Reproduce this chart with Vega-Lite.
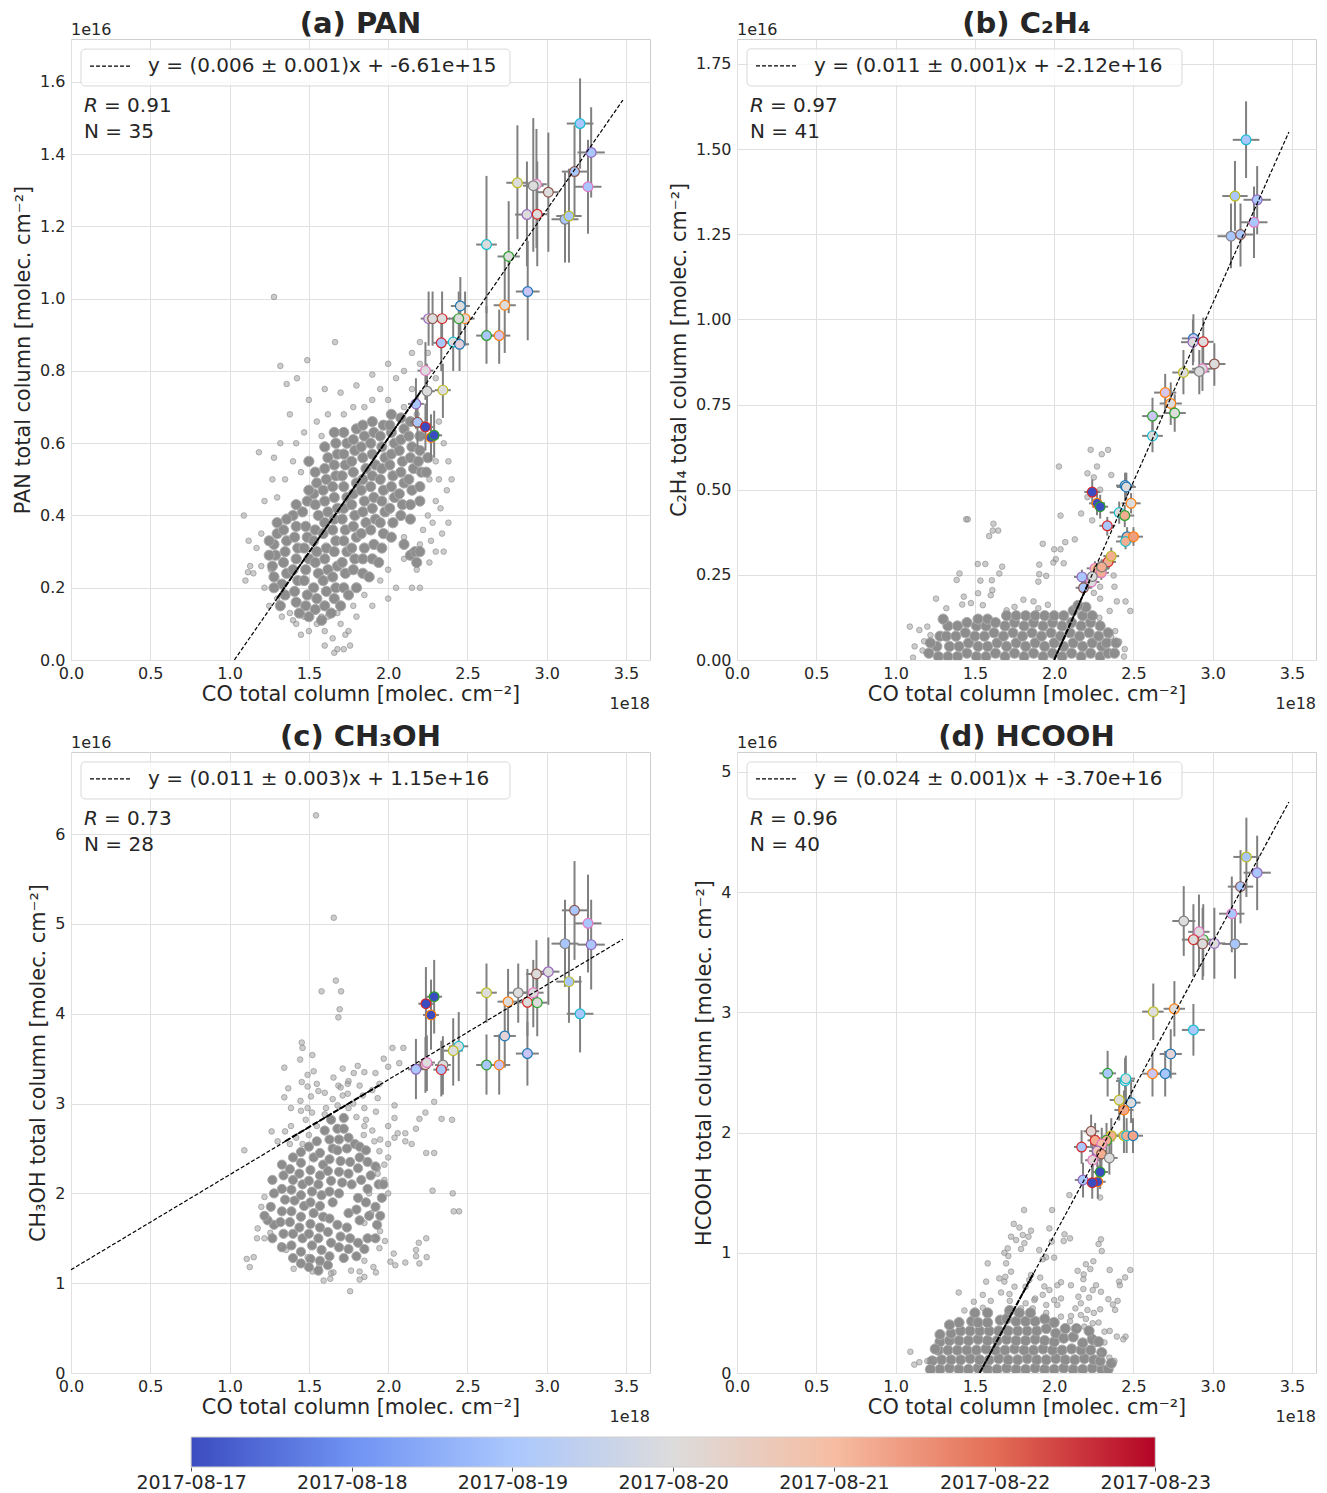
{"$schema":"https://vega.github.io/schema/vega-lite/v6.json","padding":{"left":12,"top":9,"right":0,"bottom":0},"background":"white","bounds":"flush","spacing":713,
"config":{"font":"DejaVu Sans","view":{"stroke":"#cfcfcf","strokeWidth":1},"axis":{"grid":true,"gridColor":"#e0e0e0","gridWidth":1,"domain":false,"ticks":false,"labelFontSize":16,"labelColor":"#262626","titleFontSize":20.8,"titleColor":"#262626","titleFontWeight":"normal","labelOverlap":false,"labelFlush":false},"axisX":{"labelPadding":5,"titlePadding":3},"axisY":{"labelPadding":6,"titlePadding":6},"title":{"fontSize":29,"fontWeight":"bold","color":"#262626","offset":-17,"anchor":"middle"},"text":{"color":"#262626"}},
"datasets":{
"pa":[{"x":3.21,"y":1.485,"xl":3.126,"xh":3.294,"yl":1.36,"yh":1.61,"d":19,"e":"c"},{"x":3.28,"y":1.405,"xl":3.194,"xh":3.366,"yl":1.28,"yh":1.53,"d":19,"e":"p"},{"x":3.175,"y":1.352,"xl":3.095,"xh":3.255,"yl":1.23,"yh":1.48,"d":19,"e":"n"},{"x":3.26,"y":1.31,"xl":3.175,"xh":3.345,"yl":1.18,"yh":1.44,"d":19,"e":"k"},{"x":3.115,"y":1.22,"xl":3.03,"xh":3.2,"yl":1.1,"yh":1.35,"d":19,"e":"i"},{"x":3.14,"y":1.229,"xl":3.06,"xh":3.22,"yl":1.1,"yh":1.36,"d":19,"e":"y"},{"x":2.815,"y":1.321,"xl":2.745,"xh":2.885,"yl":1.165,"yh":1.48,"d":20,"e":"y"},{"x":2.935,"y":1.317,"xl":2.87,"xh":3.0,"yl":1.14,"yh":1.47,"d":20,"e":"k"},{"x":2.915,"y":1.313,"xl":2.85,"xh":2.98,"yl":1.13,"yh":1.5,"d":20,"e":"i"},{"x":3.01,"y":1.295,"xl":2.94,"xh":3.08,"yl":1.13,"yh":1.46,"d":20,"e":"n"},{"x":2.875,"y":1.233,"xl":2.8,"xh":2.95,"yl":1.09,"yh":1.38,"d":20,"e":"p"},{"x":2.94,"y":1.234,"xl":2.875,"xh":3.005,"yl":1.09,"yh":1.38,"d":20,"e":"r"},{"x":2.62,"y":1.15,"xl":2.555,"xh":2.685,"yl":0.96,"yh":1.34,"d":20,"e":"c"},{"x":2.76,"y":1.117,"xl":2.69,"xh":2.83,"yl":0.96,"yh":1.27,"d":20,"e":"g"},{"x":2.88,"y":1.02,"xl":2.805,"xh":2.955,"yl":0.885,"yh":1.16,"d":19.2,"e":"b"},{"x":2.735,"y":0.982,"xl":2.665,"xh":2.805,"yl":0.85,"yh":1.12,"d":20,"e":"o"},{"x":2.62,"y":0.898,"xl":2.555,"xh":2.685,"yl":0.82,"yh":0.98,"d":19,"e":"g"},{"x":2.7,"y":0.898,"xl":2.63,"xh":2.77,"yl":0.82,"yh":0.97,"d":19.3,"e":"o"},{"x":2.455,"y":0.98,"xl":2.395,"xh":2.515,"yl":0.9,"yh":1.06,"d":20,"e":"b"},{"x":2.485,"y":0.945,"xl":2.425,"xh":2.545,"yl":0.87,"yh":1.02,"d":20.2,"e":"o"},{"x":2.445,"y":0.945,"xl":2.385,"xh":2.505,"yl":0.87,"yh":1.02,"d":20,"e":"g"},{"x":2.34,"y":0.945,"xl":2.29,"xh":2.39,"yl":0.87,"yh":1.02,"d":20,"e":"r"},{"x":2.255,"y":0.945,"xl":2.205,"xh":2.305,"yl":0.87,"yh":1.02,"d":20,"e":"p"},{"x":2.28,"y":0.945,"xl":2.23,"xh":2.33,"yl":0.87,"yh":1.02,"d":20,"e":"n"},{"x":2.335,"y":0.878,"xl":2.285,"xh":2.385,"yl":0.8,"yh":0.95,"d":19,"e":"r"},{"x":2.41,"y":0.88,"xl":2.35,"xh":2.47,"yl":0.8,"yh":0.95,"d":20,"e":"c"},{"x":2.45,"y":0.874,"xl":2.39,"xh":2.51,"yl":0.8,"yh":0.95,"d":19.7,"e":"b"},{"x":2.235,"y":0.801,"xl":2.185,"xh":2.285,"yl":0.72,"yh":0.88,"d":20,"e":"k"},{"x":2.245,"y":0.744,"xl":2.195,"xh":2.295,"yl":0.66,"yh":0.82,"d":20,"e":"i"},{"x":2.345,"y":0.747,"xl":2.295,"xh":2.395,"yl":0.67,"yh":0.82,"d":20,"e":"y"},{"x":2.175,"y":0.709,"xl":2.125,"xh":2.225,"yl":0.64,"yh":0.78,"d":19,"e":"p"},{"x":2.185,"y":0.658,"xl":2.135,"xh":2.235,"yl":0.59,"yh":0.73,"d":19,"e":"n"},{"x":2.27,"y":0.616,"xl":2.22,"xh":2.32,"yl":0.55,"yh":0.68,"d":17,"e":"o"},{"x":2.235,"y":0.645,"xl":2.185,"xh":2.285,"yl":0.58,"yh":0.71,"d":17,"e":"r"},{"x":2.29,"y":0.622,"xl":2.24,"xh":2.34,"yl":0.56,"yh":0.69,"d":17,"e":"g"}],
"pb":[{"x":3.21,"y":1.527,"xl":3.126,"xh":3.294,"yl":1.415,"yh":1.64,"d":19,"e":"c"},{"x":3.14,"y":1.362,"xl":3.06,"xh":3.22,"yl":1.26,"yh":1.465,"d":19,"e":"y"},{"x":3.28,"y":1.351,"xl":3.194,"xh":3.366,"yl":1.25,"yh":1.45,"d":19,"e":"p"},{"x":3.26,"y":1.285,"xl":3.175,"xh":3.345,"yl":1.18,"yh":1.39,"d":19,"e":"k"},{"x":3.115,"y":1.244,"xl":3.03,"xh":3.2,"yl":1.15,"yh":1.34,"d":19,"e":"i"},{"x":3.175,"y":1.249,"xl":3.095,"xh":3.255,"yl":1.155,"yh":1.34,"d":19,"e":"n"},{"x":2.878,"y":0.944,"xl":2.805,"xh":2.95,"yl":0.875,"yh":1.015,"d":19.3,"e":"b"},{"x":2.94,"y":0.934,"xl":2.875,"xh":3.005,"yl":0.865,"yh":1.005,"d":20,"e":"r"},{"x":2.875,"y":0.933,"xl":2.8,"xh":2.95,"yl":0.865,"yh":1.0,"d":20,"e":"p"},{"x":3.01,"y":0.869,"xl":2.94,"xh":3.08,"yl":0.805,"yh":0.93,"d":20,"e":"n"},{"x":2.935,"y":0.855,"xl":2.87,"xh":3.0,"yl":0.79,"yh":0.92,"d":20,"e":"k"},{"x":2.915,"y":0.847,"xl":2.85,"xh":2.98,"yl":0.78,"yh":0.91,"d":20,"e":"i"},{"x":2.815,"y":0.844,"xl":2.745,"xh":2.885,"yl":0.78,"yh":0.91,"d":20,"e":"y"},{"x":2.7,"y":0.785,"xl":2.63,"xh":2.77,"yl":0.725,"yh":0.84,"d":19.3,"e":"o"},{"x":2.735,"y":0.753,"xl":2.665,"xh":2.805,"yl":0.69,"yh":0.815,"d":20,"e":"o"},{"x":2.76,"y":0.725,"xl":2.69,"xh":2.83,"yl":0.67,"yh":0.78,"d":20,"e":"g"},{"x":2.62,"y":0.716,"xl":2.555,"xh":2.685,"yl":0.66,"yh":0.77,"d":19.2,"e":"g"},{"x":2.62,"y":0.658,"xl":2.555,"xh":2.685,"yl":0.61,"yh":0.71,"d":20,"e":"c"},{"x":2.447,"y":0.512,"xl":2.39,"xh":2.505,"yl":0.47,"yh":0.55,"d":19.7,"e":"b"},{"x":2.455,"y":0.508,"xl":2.395,"xh":2.515,"yl":0.47,"yh":0.55,"d":20,"e":"b"},{"x":2.485,"y":0.46,"xl":2.425,"xh":2.545,"yl":0.43,"yh":0.49,"d":20,"e":"o"},{"x":2.41,"y":0.433,"xl":2.35,"xh":2.47,"yl":0.4,"yh":0.465,"d":20,"e":"c"},{"x":2.445,"y":0.424,"xl":2.385,"xh":2.505,"yl":0.39,"yh":0.455,"d":21.2,"e":"g"},{"x":2.335,"y":0.394,"xl":2.285,"xh":2.385,"yl":0.365,"yh":0.42,"d":19,"e":"r"},{"x":2.46,"y":0.362,"xl":2.4,"xh":2.52,"yl":0.335,"yh":0.39,"d":21.2,"e":"b"},{"x":2.45,"y":0.348,"xl":2.39,"xh":2.51,"yl":0.325,"yh":0.375,"d":21.2,"e":"c"},{"x":2.5,"y":0.362,"xl":2.44,"xh":2.56,"yl":0.335,"yh":0.39,"d":21.4,"e":"o"},{"x":2.34,"y":0.288,"xl":2.29,"xh":2.39,"yl":0.265,"yh":0.31,"d":21.2,"e":"r"},{"x":2.36,"y":0.305,"xl":2.31,"xh":2.41,"yl":0.28,"yh":0.33,"d":21.2,"e":"y"},{"x":2.257,"y":0.269,"xl":2.205,"xh":2.31,"yl":0.245,"yh":0.29,"d":21,"e":"k"},{"x":2.28,"y":0.265,"xl":2.23,"xh":2.33,"yl":0.245,"yh":0.29,"d":21.2,"e":"n"},{"x":2.3,"y":0.27,"xl":2.25,"xh":2.35,"yl":0.25,"yh":0.295,"d":21.2,"e":"g"},{"x":2.297,"y":0.256,"xl":2.245,"xh":2.345,"yl":0.235,"yh":0.28,"d":21.2,"e":"k"},{"x":2.3,"y":0.273,"xl":2.25,"xh":2.35,"yl":0.25,"yh":0.295,"d":21.2,"e":"i"},{"x":2.235,"y":0.229,"xl":2.185,"xh":2.285,"yl":0.21,"yh":0.25,"d":20,"e":"k"},{"x":2.24,"y":0.245,"xl":2.19,"xh":2.29,"yl":0.225,"yh":0.265,"d":20,"e":"i"},{"x":2.175,"y":0.244,"xl":2.125,"xh":2.225,"yl":0.22,"yh":0.265,"d":19,"e":"p"},{"x":2.185,"y":0.212,"xl":2.135,"xh":2.235,"yl":0.19,"yh":0.235,"d":19,"e":"n"},{"x":2.27,"y":0.46,"xl":2.22,"xh":2.32,"yl":0.425,"yh":0.495,"d":17,"e":"o"},{"x":2.24,"y":0.493,"xl":2.19,"xh":2.29,"yl":0.455,"yh":0.53,"d":17,"e":"r"},{"x":2.29,"y":0.45,"xl":2.24,"xh":2.34,"yl":0.415,"yh":0.485,"d":17,"e":"g"}],
"pc":[{"x":3.175,"y":5.152,"xl":3.095,"xh":3.255,"yl":4.6,"yh":5.7,"d":19,"e":"n"},{"x":3.26,"y":5.007,"xl":3.175,"xh":3.345,"yl":4.46,"yh":5.55,"d":19,"e":"k"},{"x":3.115,"y":4.781,"xl":3.03,"xh":3.2,"yl":4.3,"yh":5.27,"d":19,"e":"i"},{"x":3.28,"y":4.77,"xl":3.194,"xh":3.366,"yl":4.27,"yh":5.27,"d":19,"e":"p"},{"x":3.14,"y":4.358,"xl":3.06,"xh":3.22,"yl":3.9,"yh":4.82,"d":19,"e":"y"},{"x":3.21,"y":4.0,"xl":3.126,"xh":3.294,"yl":3.57,"yh":4.42,"d":19,"e":"c"},{"x":3.01,"y":4.469,"xl":2.94,"xh":3.08,"yl":4.1,"yh":4.85,"d":20,"e":"p"},{"x":2.935,"y":4.443,"xl":2.87,"xh":3.0,"yl":4.07,"yh":4.82,"d":20,"e":"n"},{"x":2.915,"y":4.235,"xl":2.85,"xh":2.98,"yl":3.85,"yh":4.6,"d":20,"e":"k"},{"x":2.82,"y":4.235,"xl":2.75,"xh":2.89,"yl":3.9,"yh":4.56,"d":20,"e":"i"},{"x":2.756,"y":4.135,"xl":2.69,"xh":2.825,"yl":3.75,"yh":4.5,"d":20,"e":"o"},{"x":2.878,"y":4.128,"xl":2.805,"xh":2.95,"yl":3.75,"yh":4.5,"d":20,"e":"r"},{"x":2.94,"y":4.124,"xl":2.875,"xh":3.005,"yl":3.75,"yh":4.5,"d":20,"e":"g"},{"x":2.62,"y":4.235,"xl":2.555,"xh":2.685,"yl":3.9,"yh":4.56,"d":20,"e":"y"},{"x":2.735,"y":3.753,"xl":2.665,"xh":2.805,"yl":3.4,"yh":4.1,"d":19.8,"e":"b"},{"x":2.878,"y":3.557,"xl":2.805,"xh":2.95,"yl":3.2,"yh":3.91,"d":19.2,"e":"b"},{"x":2.62,"y":3.43,"xl":2.555,"xh":2.685,"yl":3.1,"yh":3.77,"d":19,"e":"g"},{"x":2.7,"y":3.43,"xl":2.63,"xh":2.77,"yl":3.1,"yh":3.77,"d":19.2,"e":"o"},{"x":2.445,"y":3.638,"xl":2.385,"xh":2.505,"yl":3.25,"yh":4.02,"d":20,"e":"c"},{"x":2.41,"y":3.589,"xl":2.35,"xh":2.47,"yl":3.2,"yh":3.95,"d":20,"e":"y"},{"x":2.345,"y":3.43,"xl":2.295,"xh":2.395,"yl":3.1,"yh":3.75,"d":20,"e":"i"},{"x":2.235,"y":3.433,"xl":2.185,"xh":2.285,"yl":3.12,"yh":3.74,"d":20,"e":"n"},{"x":2.335,"y":3.378,"xl":2.285,"xh":2.385,"yl":3.08,"yh":3.7,"d":19,"e":"r"},{"x":2.244,"y":3.457,"xl":2.195,"xh":2.295,"yl":3.14,"yh":3.76,"d":20,"e":"k"},{"x":2.175,"y":3.382,"xl":2.125,"xh":2.225,"yl":3.05,"yh":3.72,"d":19,"e":"p"},{"x":2.29,"y":4.19,"xl":2.24,"xh":2.34,"yl":3.78,"yh":4.6,"d":17,"e":"g"},{"x":2.238,"y":4.112,"xl":2.19,"xh":2.29,"yl":3.7,"yh":4.52,"d":17,"e":"r"},{"x":2.27,"y":3.987,"xl":2.22,"xh":2.32,"yl":3.6,"yh":4.38,"d":17,"e":"o"}],
"pd":[{"x":3.212,"y":4.293,"xl":3.13,"xh":3.295,"yl":3.96,"yh":4.62,"d":19,"e":"y"},{"x":3.28,"y":4.162,"xl":3.194,"xh":3.366,"yl":3.85,"yh":4.47,"d":19,"e":"p"},{"x":3.175,"y":4.046,"xl":3.095,"xh":3.255,"yl":3.74,"yh":4.35,"d":19,"e":"n"},{"x":3.12,"y":3.821,"xl":3.04,"xh":3.2,"yl":3.5,"yh":4.13,"d":19,"e":"k"},{"x":3.14,"y":3.569,"xl":3.06,"xh":3.22,"yl":3.28,"yh":3.86,"d":19,"e":"i"},{"x":3.01,"y":3.574,"xl":2.94,"xh":3.08,"yl":3.28,"yh":3.87,"d":20,"e":"p"},{"x":2.817,"y":3.76,"xl":2.745,"xh":2.89,"yl":3.47,"yh":4.05,"d":20,"e":"i"},{"x":2.94,"y":3.605,"xl":2.875,"xh":3.005,"yl":3.3,"yh":3.9,"d":20,"e":"g"},{"x":2.913,"y":3.67,"xl":2.845,"xh":2.98,"yl":3.36,"yh":3.98,"d":20,"e":"k"},{"x":2.878,"y":3.605,"xl":2.805,"xh":2.95,"yl":3.3,"yh":3.9,"d":20,"e":"r"},{"x":2.936,"y":3.57,"xl":2.87,"xh":3.0,"yl":3.27,"yh":3.87,"d":20,"e":"n"},{"x":2.758,"y":3.03,"xl":2.69,"xh":2.825,"yl":2.8,"yh":3.26,"d":20,"e":"o"},{"x":2.625,"y":3.006,"xl":2.555,"xh":2.69,"yl":2.77,"yh":3.24,"d":20,"e":"y"},{"x":2.878,"y":2.854,"xl":2.805,"xh":2.95,"yl":2.64,"yh":3.07,"d":19,"e":"c"},{"x":2.735,"y":2.654,"xl":2.665,"xh":2.805,"yl":2.45,"yh":2.86,"d":19.8,"e":"b"},{"x":2.7,"y":2.49,"xl":2.63,"xh":2.77,"yl":2.3,"yh":2.68,"d":19,"e":"b"},{"x":2.62,"y":2.49,"xl":2.555,"xh":2.685,"yl":2.3,"yh":2.68,"d":19.2,"e":"o"},{"x":2.337,"y":2.493,"xl":2.285,"xh":2.39,"yl":2.3,"yh":2.68,"d":19,"e":"g"},{"x":2.447,"y":2.43,"xl":2.39,"xh":2.505,"yl":2.25,"yh":2.62,"d":20,"e":"c"},{"x":2.452,"y":2.449,"xl":2.395,"xh":2.51,"yl":2.26,"yh":2.64,"d":20,"e":"c"},{"x":2.41,"y":2.271,"xl":2.35,"xh":2.47,"yl":2.1,"yh":2.44,"d":20,"e":"y"},{"x":2.485,"y":2.249,"xl":2.425,"xh":2.545,"yl":2.08,"yh":2.42,"d":20,"e":"b"},{"x":2.44,"y":2.188,"xl":2.38,"xh":2.5,"yl":2.02,"yh":2.35,"d":21.3,"e":"o"},{"x":2.44,"y":1.974,"xl":2.38,"xh":2.5,"yl":1.83,"yh":2.12,"d":21.2,"e":"y"},{"x":2.36,"y":1.974,"xl":2.31,"xh":2.41,"yl":1.83,"yh":2.12,"d":21.2,"e":"y"},{"x":2.457,"y":1.974,"xl":2.4,"xh":2.515,"yl":1.83,"yh":2.12,"d":21.2,"e":"c"},{"x":2.497,"y":1.974,"xl":2.435,"xh":2.56,"yl":1.83,"yh":2.12,"d":21.3,"e":"b"},{"x":2.33,"y":1.935,"xl":2.28,"xh":2.38,"yl":1.8,"yh":2.08,"d":21.2,"e":"g"},{"x":2.233,"y":2.011,"xl":2.185,"xh":2.285,"yl":1.87,"yh":2.15,"d":20.2,"e":"n"},{"x":2.258,"y":1.935,"xl":2.21,"xh":2.31,"yl":1.8,"yh":2.08,"d":21.2,"e":"r"},{"x":2.3,"y":1.905,"xl":2.25,"xh":2.35,"yl":1.77,"yh":2.04,"d":21,"e":"k"},{"x":2.173,"y":1.88,"xl":2.125,"xh":2.225,"yl":1.74,"yh":2.02,"d":19,"e":"r"},{"x":2.272,"y":1.847,"xl":2.22,"xh":2.32,"yl":1.71,"yh":1.98,"d":20.6,"e":"p"},{"x":2.298,"y":1.822,"xl":2.25,"xh":2.35,"yl":1.69,"yh":1.96,"d":21.2,"e":"n"},{"x":2.348,"y":1.789,"xl":2.3,"xh":2.4,"yl":1.65,"yh":1.93,"d":20,"e":"i"},{"x":2.243,"y":1.77,"xl":2.195,"xh":2.295,"yl":1.63,"yh":1.91,"d":20.2,"e":"k"},{"x":2.182,"y":1.606,"xl":2.13,"xh":2.235,"yl":1.46,"yh":1.75,"d":19,"e":"p"},{"x":2.275,"y":1.591,"xl":2.225,"xh":2.325,"yl":1.45,"yh":1.73,"d":17,"e":"o"},{"x":2.29,"y":1.672,"xl":2.24,"xh":2.34,"yl":1.53,"yh":1.81,"d":17,"e":"g"},{"x":2.24,"y":1.583,"xl":2.19,"xh":2.29,"yl":1.45,"yh":1.72,"d":17,"e":"r"}],
"ac":[{"x":1.28,"y":0.23},{"x":1.27,"y":0.26},{"x":1.29,"y":0.29},{"x":1.28,"y":0.32},{"x":1.3,"y":0.35},{"x":1.35,"y":0.18},{"x":1.33,"y":0.21},{"x":1.36,"y":0.24},{"x":1.34,"y":0.27},{"x":1.35,"y":0.3},{"x":1.36,"y":0.33},{"x":1.34,"y":0.36},{"x":1.42,"y":0.16},{"x":1.41,"y":0.19},{"x":1.43,"y":0.22},{"x":1.4,"y":0.25},{"x":1.42,"y":0.28},{"x":1.43,"y":0.31},{"x":1.41,"y":0.34},{"x":1.42,"y":0.37},{"x":1.4,"y":0.4},{"x":1.48,"y":0.15},{"x":1.49,"y":0.18},{"x":1.47,"y":0.22},{"x":1.48,"y":0.25},{"x":1.5,"y":0.28},{"x":1.47,"y":0.31},{"x":1.49,"y":0.34},{"x":1.48,"y":0.37},{"x":1.46,"y":0.41},{"x":1.49,"y":0.44},{"x":1.54,"y":0.14},{"x":1.55,"y":0.17},{"x":1.53,"y":0.2},{"x":1.56,"y":0.24},{"x":1.54,"y":0.27},{"x":1.55,"y":0.3},{"x":1.53,"y":0.33},{"x":1.54,"y":0.36},{"x":1.56,"y":0.4},{"x":1.54,"y":0.43},{"x":1.53,"y":0.46},{"x":1.55,"y":0.49},{"x":1.54,"y":0.52},{"x":1.6,"y":0.15},{"x":1.61,"y":0.19},{"x":1.59,"y":0.22},{"x":1.62,"y":0.25},{"x":1.6,"y":0.28},{"x":1.61,"y":0.31},{"x":1.59,"y":0.35},{"x":1.6,"y":0.38},{"x":1.62,"y":0.41},{"x":1.6,"y":0.44},{"x":1.59,"y":0.47},{"x":1.61,"y":0.5},{"x":1.6,"y":0.53},{"x":1.62,"y":0.56},{"x":1.66,"y":0.17},{"x":1.67,"y":0.2},{"x":1.65,"y":0.23},{"x":1.68,"y":0.26},{"x":1.66,"y":0.3},{"x":1.67,"y":0.33},{"x":1.65,"y":0.36},{"x":1.66,"y":0.39},{"x":1.68,"y":0.42},{"x":1.66,"y":0.45},{"x":1.65,"y":0.48},{"x":1.67,"y":0.51},{"x":1.66,"y":0.54},{"x":1.68,"y":0.57},{"x":1.67,"y":0.6},{"x":1.72,"y":0.2},{"x":1.73,"y":0.24},{"x":1.71,"y":0.27},{"x":1.74,"y":0.3},{"x":1.72,"y":0.33},{"x":1.73,"y":0.36},{"x":1.71,"y":0.39},{"x":1.72,"y":0.42},{"x":1.74,"y":0.45},{"x":1.72,"y":0.48},{"x":1.71,"y":0.51},{"x":1.73,"y":0.54},{"x":1.72,"y":0.57},{"x":1.74,"y":0.6},{"x":1.72,"y":0.63},{"x":1.78,"y":0.25},{"x":1.79,"y":0.28},{"x":1.77,"y":0.31},{"x":1.8,"y":0.34},{"x":1.78,"y":0.37},{"x":1.79,"y":0.4},{"x":1.77,"y":0.43},{"x":1.78,"y":0.46},{"x":1.8,"y":0.49},{"x":1.78,"y":0.52},{"x":1.77,"y":0.55},{"x":1.79,"y":0.58},{"x":1.78,"y":0.61},{"x":1.8,"y":0.64},{"x":1.84,"y":0.28},{"x":1.85,"y":0.31},{"x":1.83,"y":0.35},{"x":1.86,"y":0.38},{"x":1.84,"y":0.41},{"x":1.85,"y":0.44},{"x":1.83,"y":0.47},{"x":1.84,"y":0.5},{"x":1.86,"y":0.53},{"x":1.84,"y":0.56},{"x":1.83,"y":0.59},{"x":1.85,"y":0.62},{"x":1.84,"y":0.65},{"x":1.9,"y":0.28},{"x":1.91,"y":0.32},{"x":1.89,"y":0.36},{"x":1.92,"y":0.39},{"x":1.9,"y":0.42},{"x":1.91,"y":0.45},{"x":1.89,"y":0.48},{"x":1.9,"y":0.51},{"x":1.92,"y":0.54},{"x":1.9,"y":0.57},{"x":1.89,"y":0.6},{"x":1.91,"y":0.63},{"x":1.9,"y":0.66},{"x":1.96,"y":0.31},{"x":1.97,"y":0.35},{"x":1.95,"y":0.38},{"x":1.98,"y":0.41},{"x":1.96,"y":0.44},{"x":1.97,"y":0.47},{"x":1.95,"y":0.5},{"x":1.96,"y":0.53},{"x":1.98,"y":0.56},{"x":1.96,"y":0.59},{"x":1.95,"y":0.62},{"x":1.97,"y":0.65},{"x":2.02,"y":0.34},{"x":2.03,"y":0.38},{"x":2.01,"y":0.42},{"x":2.04,"y":0.45},{"x":2.02,"y":0.48},{"x":2.03,"y":0.51},{"x":2.01,"y":0.54},{"x":2.02,"y":0.57},{"x":2.04,"y":0.6},{"x":2.02,"y":0.63},{"x":2.01,"y":0.65},{"x":2.08,"y":0.4},{"x":2.09,"y":0.43},{"x":2.07,"y":0.46},{"x":2.1,"y":0.49},{"x":2.08,"y":0.52},{"x":2.09,"y":0.55},{"x":2.07,"y":0.58},{"x":2.08,"y":0.61},{"x":2.1,"y":0.64},{"x":2.14,"y":0.43},{"x":2.15,"y":0.47},{"x":2.13,"y":0.5},{"x":2.16,"y":0.53},{"x":2.14,"y":0.56},{"x":2.15,"y":0.59},{"x":2.13,"y":0.62},{"x":2.2,"y":0.48},{"x":2.21,"y":0.52},{"x":2.19,"y":0.55},{"x":2.2,"y":0.58},{"x":2.14,"y":0.39},{"x":2.2,"y":0.44},{"x":2.24,"y":0.52},{"x":2.25,"y":0.56},{"x":2.2,"y":0.62},{"x":2.14,"y":0.66},{"x":2.08,"y":0.67},{"x":2.02,"y":0.68},{"x":2.1,"y":0.32},{"x":2.14,"y":0.29},{"x":2.18,"y":0.27},{"x":2.17,"y":0.3},{"x":2.2,"y":0.3},{"x":1.84,"y":0.24},{"x":1.88,"y":0.23},{"x":1.94,"y":0.27},{"x":1.8,"y":0.2},{"x":1.75,"y":0.18},{"x":1.7,"y":0.15},{"x":1.64,"y":0.13},{"x":1.58,"y":0.11},{"x":1.5,"y":0.12},{"x":1.44,"y":0.13},{"x":1.28,"y":0.2},{"x":1.32,"y":0.15},{"x":1.25,"y":0.29},{"x":1.5,"y":0.47},{"x":1.42,"y":0.43},{"x":1.36,"y":0.39},{"x":1.3,"y":0.38},{"x":1.25,"y":0.33},{"x":1.5,"y":0.55},{"x":1.6,"y":0.59},{"x":1.66,"y":0.63}],
"af":[{"x":1.28,"y":1.005},{"x":1.32,"y":0.814},{"x":1.36,"y":0.764},{"x":1.425,"y":0.78},{"x":1.665,"y":0.88},{"x":1.49,"y":0.83},{"x":1.185,"y":0.575},{"x":1.09,"y":0.4},{"x":1.116,"y":0.243},{"x":1.26,"y":0.25},{"x":1.55,"y":0.1},{"x":1.6,"y":0.08},{"x":1.58,"y":0.12},{"x":1.65,"y":0.06},{"x":1.7,"y":0.1},{"x":1.72,"y":0.03},{"x":1.75,"y":0.08},{"x":1.76,"y":0.04},{"x":1.68,"y":0.13},{"x":1.62,"y":0.12},{"x":1.8,"y":0.12},{"x":1.78,"y":0.15},{"x":1.47,"y":0.12},{"x":1.42,"y":0.1},{"x":1.38,"y":0.13},{"x":1.4,"y":0.11},{"x":2.1,"y":0.34},{"x":2.15,"y":0.3},{"x":2.2,"y":0.32},{"x":2.22,"y":0.36},{"x":2.25,"y":0.4},{"x":2.28,"y":0.38},{"x":2.3,"y":0.44},{"x":2.33,"y":0.42},{"x":2.35,"y":0.3},{"x":2.26,"y":0.27},{"x":2.18,"y":0.25},{"x":2.05,"y":0.2},{"x":2.0,"y":0.25},{"x":1.95,"y":0.22},{"x":2.1,"y":0.28},{"x":1.9,"y":0.72},{"x":1.95,"y":0.75},{"x":2.0,"y":0.72},{"x":1.85,"y":0.7},{"x":1.78,"y":0.7},{"x":1.72,"y":0.68},{"x":2.1,"y":0.7},{"x":2.15,"y":0.75},{"x":2.18,"y":0.68},{"x":2.05,"y":0.78},{"x":2.1,"y":0.8},{"x":2.2,"y":0.82},{"x":2.3,"y":0.78},{"x":2.25,"y":0.85},{"x":2.2,"y":0.88},{"x":2.32,"y":0.66},{"x":2.35,"y":0.6},{"x":2.38,"y":0.55},{"x":2.4,"y":0.5},{"x":2.37,"y":0.47},{"x":1.45,"y":0.52},{"x":1.4,"y":0.55},{"x":1.35,"y":0.5},{"x":1.3,"y":0.45},{"x":1.42,"y":0.6},{"x":1.47,"y":0.63},{"x":1.58,"y":0.62},{"x":1.55,"y":0.66},{"x":1.62,"y":0.68},{"x":1.27,"y":0.5},{"x":1.22,"y":0.44},{"x":1.25,"y":0.15},{"x":1.2,"y":0.26},{"x":1.22,"y":0.2},{"x":1.3,"y":0.17},{"x":1.33,"y":0.12},{"x":1.15,"y":0.24},{"x":2.3,"y":0.55},{"x":2.26,"y":0.5},{"x":2.34,"y":0.35},{"x":1.1,"y":0.22},{"x":1.13,"y":0.26},{"x":1.17,"y":0.31},{"x":1.2,"y":0.35},{"x":1.12,"y":0.33},{"x":1.28,"y":0.56},{"x":1.32,"y":0.6},{"x":1.38,"y":0.68},{"x":1.5,"y":0.72},{"x":1.6,"y":0.75},{"x":1.7,"y":0.74},{"x":1.8,"y":0.76},{"x":1.9,"y":0.79},{"x":2.0,"y":0.82},{"x":2.15,"y":0.85},{"x":2.32,"y":0.5},{"x":2.27,"y":0.33},{"x":2.38,"y":0.38},{"x":2.3,"y":0.3},{"x":2.2,"y":0.2},{"x":2.15,"y":0.2},{"x":2.0,"y":0.17},{"x":1.9,"y":0.15},{"x":1.85,"y":0.18},{"x":1.6,"y":0.04},{"x":1.66,"y":0.02},{"x":1.73,"y":0.07},{"x":1.5,"y":0.08},{"x":1.45,"y":0.07},{"x":1.68,"y":0.03}],
"bc":[{"x":1.27,"y":0.01},{"x":1.26,"y":0.04},{"x":1.28,"y":0.07},{"x":1.33,"y":0.01},{"x":1.34,"y":0.04},{"x":1.32,"y":0.07},{"x":1.33,"y":0.1},{"x":1.39,"y":0.01},{"x":1.4,"y":0.04},{"x":1.38,"y":0.07},{"x":1.39,"y":0.1},{"x":1.45,"y":0.02},{"x":1.46,"y":0.05},{"x":1.44,"y":0.08},{"x":1.45,"y":0.11},{"x":1.51,"y":0.01},{"x":1.52,"y":0.04},{"x":1.5,"y":0.07},{"x":1.51,"y":0.1},{"x":1.52,"y":0.12},{"x":1.57,"y":0.01},{"x":1.58,"y":0.04},{"x":1.56,"y":0.07},{"x":1.57,"y":0.1},{"x":1.58,"y":0.12},{"x":1.63,"y":0.02},{"x":1.64,"y":0.05},{"x":1.62,"y":0.08},{"x":1.63,"y":0.11},{"x":1.69,"y":0.01},{"x":1.7,"y":0.04},{"x":1.68,"y":0.07},{"x":1.69,"y":0.1},{"x":1.7,"y":0.13},{"x":1.75,"y":0.02},{"x":1.76,"y":0.05},{"x":1.74,"y":0.08},{"x":1.75,"y":0.11},{"x":1.76,"y":0.13},{"x":1.81,"y":0.01},{"x":1.82,"y":0.04},{"x":1.8,"y":0.07},{"x":1.81,"y":0.1},{"x":1.82,"y":0.13},{"x":1.87,"y":0.02},{"x":1.88,"y":0.05},{"x":1.86,"y":0.08},{"x":1.87,"y":0.11},{"x":1.88,"y":0.13},{"x":1.93,"y":0.01},{"x":1.94,"y":0.04},{"x":1.92,"y":0.07},{"x":1.93,"y":0.1},{"x":1.94,"y":0.13},{"x":1.99,"y":0.02},{"x":2.0,"y":0.05},{"x":1.98,"y":0.08},{"x":1.99,"y":0.11},{"x":2.0,"y":0.13},{"x":2.05,"y":0.01},{"x":2.06,"y":0.04},{"x":2.04,"y":0.07},{"x":2.05,"y":0.1},{"x":2.06,"y":0.13},{"x":2.11,"y":0.02},{"x":2.12,"y":0.05},{"x":2.1,"y":0.08},{"x":2.11,"y":0.11},{"x":2.12,"y":0.145},{"x":2.17,"y":0.01},{"x":2.18,"y":0.04},{"x":2.16,"y":0.07},{"x":2.17,"y":0.1},{"x":2.18,"y":0.13},{"x":2.23,"y":0.02},{"x":2.24,"y":0.05},{"x":2.22,"y":0.08},{"x":2.23,"y":0.11},{"x":2.29,"y":0.01},{"x":2.3,"y":0.04},{"x":2.28,"y":0.07},{"x":2.34,"y":0.02},{"x":2.33,"y":0.05},{"x":1.21,"y":0.02},{"x":1.22,"y":0.05},{"x":2.38,"y":0.02},{"x":2.39,"y":0.05},{"x":2.34,"y":0.08},{"x":2.29,"y":0.1},{"x":2.24,"y":0.13},{"x":2.2,"y":0.155},{"x":2.15,"y":0.16},{"x":1.3,"y":0.12}],
"bf":[{"x":1.09,"y":0.098},{"x":1.15,"y":0.088},{"x":1.2,"y":0.098},{"x":1.18,"y":0.055},{"x":1.12,"y":0.04},{"x":1.11,"y":0.007},{"x":1.17,"y":0.028},{"x":1.22,"y":0.073},{"x":1.255,"y":0.18},{"x":1.32,"y":0.152},{"x":1.43,"y":0.186},{"x":1.42,"y":0.163},{"x":1.475,"y":0.167},{"x":1.55,"y":0.161},{"x":1.6,"y":0.19},{"x":1.61,"y":0.205},{"x":1.52,"y":0.196},{"x":1.445,"y":0.413},{"x":1.455,"y":0.413},{"x":1.617,"y":0.4},{"x":1.613,"y":0.38},{"x":1.647,"y":0.38},{"x":1.59,"y":0.364},{"x":1.518,"y":0.282},{"x":1.566,"y":0.282},{"x":1.672,"y":0.274},{"x":1.403,"y":0.254},{"x":1.385,"y":0.235},{"x":1.535,"y":0.233},{"x":1.607,"y":0.234},{"x":1.654,"y":0.254},{"x":1.806,"y":0.177},{"x":1.87,"y":0.172},{"x":1.96,"y":0.162},{"x":1.9,"y":0.152},{"x":1.75,"y":0.156},{"x":1.7,"y":0.146},{"x":1.928,"y":0.341},{"x":2.0,"y":0.325},{"x":2.04,"y":0.325},{"x":2.01,"y":0.296},{"x":2.06,"y":0.284},{"x":1.995,"y":0.286},{"x":2.07,"y":0.346},{"x":2.13,"y":0.354},{"x":1.906,"y":0.28},{"x":1.906,"y":0.252},{"x":1.95,"y":0.247},{"x":1.9,"y":0.23},{"x":2.04,"y":0.424},{"x":2.17,"y":0.43},{"x":2.24,"y":0.41},{"x":2.03,"y":0.568},{"x":2.27,"y":0.568},{"x":2.21,"y":0.548},{"x":2.25,"y":0.536},{"x":2.36,"y":0.543},{"x":2.3,"y":0.604},{"x":2.23,"y":0.617},{"x":2.34,"y":0.617},{"x":2.29,"y":0.5},{"x":2.21,"y":0.478},{"x":2.38,"y":0.215},{"x":2.29,"y":0.18},{"x":2.395,"y":0.172},{"x":2.45,"y":0.172},{"x":2.48,"y":0.144},{"x":2.35,"y":0.144},{"x":2.285,"y":0.124},{"x":2.385,"y":0.085},{"x":2.41,"y":0.054},{"x":2.445,"y":0.032},{"x":2.44,"y":0.01},{"x":2.36,"y":0.068},{"x":2.25,"y":0.197},{"x":2.29,"y":0.215},{"x":2.375,"y":0.248}],
"cc":[{"x":1.27,"y":1.5},{"x":1.28,"y":1.65},{"x":1.26,"y":1.85},{"x":1.28,"y":2.0},{"x":1.33,"y":1.4},{"x":1.34,"y":1.55},{"x":1.32,"y":1.68},{"x":1.33,"y":1.8},{"x":1.35,"y":1.93},{"x":1.33,"y":2.05},{"x":1.34,"y":2.2},{"x":1.39,"y":1.42},{"x":1.4,"y":1.55},{"x":1.38,"y":1.68},{"x":1.39,"y":1.8},{"x":1.41,"y":1.92},{"x":1.39,"y":2.04},{"x":1.4,"y":2.15},{"x":1.38,"y":2.27},{"x":1.45,"y":1.35},{"x":1.46,"y":1.5},{"x":1.44,"y":1.62},{"x":1.45,"y":1.74},{"x":1.47,"y":1.86},{"x":1.45,"y":1.98},{"x":1.46,"y":2.1},{"x":1.44,"y":2.22},{"x":1.45,"y":2.34},{"x":1.51,"y":1.27},{"x":1.52,"y":1.42},{"x":1.5,"y":1.55},{"x":1.51,"y":1.66},{"x":1.53,"y":1.78},{"x":1.51,"y":1.9},{"x":1.52,"y":2.02},{"x":1.5,"y":2.14},{"x":1.51,"y":2.26},{"x":1.53,"y":2.4},{"x":1.57,"y":1.25},{"x":1.58,"y":1.37},{"x":1.56,"y":1.5},{"x":1.57,"y":1.62},{"x":1.59,"y":1.74},{"x":1.57,"y":1.86},{"x":1.58,"y":1.98},{"x":1.56,"y":2.1},{"x":1.57,"y":2.2},{"x":1.59,"y":2.32},{"x":1.57,"y":2.45},{"x":1.63,"y":1.3},{"x":1.64,"y":1.45},{"x":1.62,"y":1.57},{"x":1.63,"y":1.72},{"x":1.65,"y":1.9},{"x":1.63,"y":2.02},{"x":1.64,"y":2.14},{"x":1.62,"y":2.25},{"x":1.63,"y":2.38},{"x":1.65,"y":2.5},{"x":1.63,"y":2.6},{"x":1.69,"y":1.4},{"x":1.7,"y":1.52},{"x":1.68,"y":1.65},{"x":1.69,"y":2.0},{"x":1.71,"y":2.12},{"x":1.69,"y":2.24},{"x":1.7,"y":2.36},{"x":1.68,"y":2.48},{"x":1.69,"y":2.6},{"x":1.75,"y":1.38},{"x":1.76,"y":1.5},{"x":1.74,"y":1.62},{"x":1.75,"y":1.78},{"x":1.77,"y":2.1},{"x":1.75,"y":2.22},{"x":1.76,"y":2.35},{"x":1.74,"y":2.5},{"x":1.81,"y":1.45},{"x":1.82,"y":1.7},{"x":1.8,"y":1.82},{"x":1.81,"y":1.95},{"x":1.83,"y":2.15},{"x":1.81,"y":2.28},{"x":1.82,"y":2.4},{"x":1.87,"y":1.5},{"x":1.88,"y":1.75},{"x":1.86,"y":1.9},{"x":1.87,"y":2.05},{"x":1.89,"y":2.2},{"x":1.87,"y":2.35},{"x":1.93,"y":1.65},{"x":1.92,"y":1.85},{"x":1.94,"y":2.1},{"x":1.68,"y":2.72},{"x":1.72,"y":2.72},{"x":1.75,"y":2.62},{"x":1.79,"y":2.55},{"x":1.82,"y":2.52},{"x":1.86,"y":2.48},{"x":1.6,"y":2.7},{"x":1.64,"y":2.82},{"x":1.72,"y":2.84},{"x":1.45,"y":2.46},{"x":1.5,"y":2.52},{"x":1.55,"y":2.58},{"x":1.4,"y":2.4},{"x":1.33,"y":2.32},{"x":1.27,"y":2.15},{"x":1.24,"y":1.7},{"x":1.22,"y":1.75},{"x":1.5,"y":1.18},{"x":1.56,"y":1.14},{"x":1.62,"y":1.2},{"x":1.72,"y":1.28},{"x":1.8,"y":1.3},{"x":1.85,"y":1.38},{"x":1.92,"y":1.5},{"x":1.95,"y":1.75},{"x":1.96,"y":1.95},{"x":1.97,"y":2.1},{"x":1.92,"y":2.3},{"x":1.4,"y":1.28},{"x":1.45,"y":1.22}],
"cf":[{"x":1.545,"y":6.21},{"x":1.657,"y":5.07},{"x":1.67,"y":4.37},{"x":1.58,"y":4.25},{"x":1.703,"y":4.25},{"x":1.694,"y":4.05},{"x":1.686,"y":3.96},{"x":1.455,"y":3.68},{"x":1.46,"y":3.62},{"x":1.445,"y":3.49},{"x":1.522,"y":3.54},{"x":1.345,"y":3.4},{"x":1.492,"y":3.32},{"x":1.53,"y":3.36},{"x":1.713,"y":3.39},{"x":1.655,"y":3.29},{"x":1.808,"y":3.42},{"x":1.783,"y":3.34},{"x":1.85,"y":3.35},{"x":1.92,"y":3.34},{"x":1.972,"y":3.5},{"x":2.027,"y":3.62},{"x":2.096,"y":3.62},{"x":2.07,"y":3.45},{"x":2.0,"y":3.41},{"x":1.455,"y":3.24},{"x":1.37,"y":3.17},{"x":1.492,"y":3.19},{"x":1.56,"y":3.14},{"x":1.345,"y":3.07},{"x":1.447,"y":3.03},{"x":1.513,"y":3.08},{"x":1.686,"y":3.2},{"x":1.745,"y":3.22},{"x":1.713,"y":3.09},{"x":1.745,"y":3.11},{"x":1.84,"y":3.09},{"x":1.945,"y":3.22},{"x":1.934,"y":3.06},{"x":2.04,"y":2.98},{"x":2.29,"y":3.02},{"x":2.235,"y":2.9},{"x":2.197,"y":2.83},{"x":2.337,"y":2.83},{"x":2.403,"y":2.82},{"x":1.387,"y":2.95},{"x":1.492,"y":2.95},{"x":1.608,"y":2.95},{"x":1.681,"y":2.98},{"x":1.85,"y":2.95},{"x":1.923,"y":2.91},{"x":1.86,"y":2.82},{"x":2.04,"y":2.84},{"x":2.0,"y":2.75},{"x":2.06,"y":2.67},{"x":2.108,"y":2.67},{"x":2.175,"y":2.72},{"x":2.108,"y":2.58},{"x":2.148,"y":2.55},{"x":2.24,"y":2.45},{"x":2.29,"y":2.45},{"x":2.0,"y":2.4},{"x":1.976,"y":2.32},{"x":1.934,"y":2.28},{"x":1.945,"y":2.47},{"x":1.913,"y":2.58},{"x":1.846,"y":2.65},{"x":1.265,"y":2.69},{"x":1.35,"y":2.69},{"x":1.093,"y":2.48},{"x":1.387,"y":2.75},{"x":1.303,"y":2.58},{"x":2.0,"y":2.0},{"x":2.28,"y":2.03},{"x":2.407,"y":2.0},{"x":2.413,"y":1.8},{"x":2.447,"y":1.8},{"x":1.934,"y":2.22},{"x":1.976,"y":2.15},{"x":1.88,"y":2.0},{"x":1.893,"y":1.78},{"x":1.85,"y":1.67},{"x":1.949,"y":1.58},{"x":1.903,"y":1.5},{"x":1.98,"y":1.47},{"x":1.945,"y":1.39},{"x":2.24,"y":1.5},{"x":2.193,"y":1.45},{"x":2.176,"y":1.37},{"x":2.176,"y":1.3},{"x":2.197,"y":1.22},{"x":2.243,"y":1.29},{"x":2.035,"y":1.33},{"x":2.014,"y":1.24},{"x":2.045,"y":1.2},{"x":2.108,"y":1.23},{"x":1.85,"y":1.25},{"x":1.907,"y":1.18},{"x":1.923,"y":1.12},{"x":1.82,"y":1.13},{"x":1.85,"y":1.07},{"x":1.82,"y":1.04},{"x":1.766,"y":1.14},{"x":1.76,"y":0.91},{"x":1.64,"y":1.11},{"x":1.655,"y":1.12},{"x":1.593,"y":1.03},{"x":1.635,"y":1.05},{"x":1.524,"y":1.13},{"x":1.404,"y":1.16},{"x":1.108,"y":1.27},{"x":1.152,"y":1.29},{"x":1.127,"y":1.18},{"x":1.566,"y":1.2},{"x":1.492,"y":1.29},{"x":1.356,"y":1.37},{"x":1.324,"y":1.42},{"x":1.22,"y":1.5},{"x":1.173,"y":1.5},{"x":1.177,"y":1.61},{"x":1.2,"y":1.85},{"x":1.22,"y":1.96},{"x":1.257,"y":1.56},{"x":1.46,"y":2.55},{"x":1.5,"y":2.65},{"x":1.42,"y":2.62},{"x":1.38,"y":2.55},{"x":1.55,"y":2.75},{"x":1.6,"y":2.88},{"x":1.48,"y":2.82},{"x":1.45,"y":2.92},{"x":1.52,"y":2.9},{"x":1.75,"y":2.95},{"x":1.8,"y":2.85},{"x":1.85,"y":2.75},{"x":1.9,"y":2.7},{"x":1.78,"y":3.0},{"x":1.65,"y":3.05},{"x":1.6,"y":3.12},{"x":1.55,"y":3.22},{"x":1.75,"y":3.25},{"x":1.82,"y":3.2},{"x":1.9,"y":3.15},{"x":1.7,"y":3.18},{"x":1.95,"y":2.6},{"x":2.0,"y":2.55},{"x":2.04,"y":2.62}],
"dc":[{"x":1.28,"y":0.03},{"x":1.29,"y":0.11},{"x":1.27,"y":0.19},{"x":1.28,"y":0.26},{"x":1.34,"y":0.04},{"x":1.35,"y":0.11},{"x":1.33,"y":0.19},{"x":1.34,"y":0.27},{"x":1.35,"y":0.33},{"x":1.4,"y":0.03},{"x":1.41,"y":0.11},{"x":1.39,"y":0.19},{"x":1.4,"y":0.27},{"x":1.41,"y":0.35},{"x":1.46,"y":0.03},{"x":1.47,"y":0.12},{"x":1.45,"y":0.19},{"x":1.46,"y":0.27},{"x":1.47,"y":0.35},{"x":1.48,"y":0.43},{"x":1.52,"y":0.04},{"x":1.53,"y":0.11},{"x":1.51,"y":0.19},{"x":1.52,"y":0.28},{"x":1.53,"y":0.35},{"x":1.52,"y":0.42},{"x":1.58,"y":0.03},{"x":1.59,"y":0.11},{"x":1.57,"y":0.2},{"x":1.58,"y":0.27},{"x":1.59,"y":0.35},{"x":1.58,"y":0.42},{"x":1.64,"y":0.03},{"x":1.65,"y":0.12},{"x":1.63,"y":0.19},{"x":1.64,"y":0.27},{"x":1.65,"y":0.35},{"x":1.66,"y":0.44},{"x":1.7,"y":0.04},{"x":1.71,"y":0.11},{"x":1.69,"y":0.19},{"x":1.7,"y":0.28},{"x":1.71,"y":0.35},{"x":1.7,"y":0.45},{"x":1.76,"y":0.03},{"x":1.77,"y":0.11},{"x":1.75,"y":0.2},{"x":1.76,"y":0.27},{"x":1.77,"y":0.35},{"x":1.76,"y":0.43},{"x":1.78,"y":0.5},{"x":1.82,"y":0.03},{"x":1.83,"y":0.12},{"x":1.81,"y":0.19},{"x":1.82,"y":0.27},{"x":1.83,"y":0.35},{"x":1.82,"y":0.43},{"x":1.88,"y":0.04},{"x":1.89,"y":0.11},{"x":1.87,"y":0.19},{"x":1.88,"y":0.28},{"x":1.89,"y":0.35},{"x":1.88,"y":0.43},{"x":1.94,"y":0.03},{"x":1.95,"y":0.11},{"x":1.93,"y":0.2},{"x":1.94,"y":0.27},{"x":1.95,"y":0.37},{"x":2.0,"y":0.03},{"x":2.01,"y":0.12},{"x":1.99,"y":0.19},{"x":2.0,"y":0.26},{"x":2.01,"y":0.33},{"x":2.06,"y":0.04},{"x":2.07,"y":0.11},{"x":2.05,"y":0.19},{"x":2.06,"y":0.29},{"x":2.12,"y":0.03},{"x":2.13,"y":0.11},{"x":2.11,"y":0.2},{"x":2.12,"y":0.3},{"x":2.18,"y":0.03},{"x":2.19,"y":0.12},{"x":2.17,"y":0.19},{"x":2.18,"y":0.25},{"x":2.24,"y":0.04},{"x":2.25,"y":0.11},{"x":2.23,"y":0.19},{"x":2.24,"y":0.28},{"x":2.3,"y":0.03},{"x":2.29,"y":0.1},{"x":2.34,"y":0.03},{"x":2.36,"y":0.08},{"x":2.3,"y":0.17},{"x":2.28,"y":0.26},{"x":2.22,"y":0.35},{"x":2.14,"y":0.37},{"x":2.07,"y":0.37},{"x":2.0,"y":0.42},{"x":1.94,"y":0.45},{"x":1.85,"y":0.5},{"x":1.72,"y":0.52},{"x":1.58,"y":0.5},{"x":1.5,"y":0.5},{"x":1.4,"y":0.42},{"x":1.34,"y":0.4},{"x":1.28,"y":0.32},{"x":1.23,"y":0.1},{"x":1.22,"y":0.03},{"x":1.25,"y":0.2}],
"df":[{"x":1.093,"y":0.177},{"x":1.118,"y":0.07},{"x":1.15,"y":0.09},{"x":1.2,"y":0.1},{"x":1.245,"y":0.11},{"x":1.398,"y":0.67},{"x":1.434,"y":0.52},{"x":1.493,"y":0.593},{"x":1.55,"y":0.543},{"x":1.571,"y":0.76},{"x":1.581,"y":0.912},{"x":1.654,"y":0.787},{"x":1.692,"y":0.8},{"x":1.686,"y":0.76},{"x":1.728,"y":0.843},{"x":1.697,"y":0.912},{"x":1.711,"y":0.973},{"x":1.686,"y":1.0},{"x":1.707,"y":1.037},{"x":1.728,"y":1.134},{"x":1.745,"y":1.24},{"x":1.781,"y":1.21},{"x":1.76,"y":1.106},{"x":1.802,"y":1.148},{"x":1.854,"y":1.184},{"x":1.812,"y":1.08},{"x":1.791,"y":1.032},{"x":1.838,"y":1.134},{"x":1.81,"y":1.356},{"x":1.987,"y":1.356},{"x":1.97,"y":1.203},{"x":1.985,"y":1.093},{"x":1.906,"y":1.023},{"x":1.949,"y":0.962},{"x":2.0,"y":0.96},{"x":1.928,"y":0.946},{"x":2.065,"y":1.154},{"x":2.1,"y":1.12},{"x":2.06,"y":1.098},{"x":2.096,"y":1.48},{"x":2.28,"y":1.073},{"x":2.295,"y":1.112},{"x":2.3,"y":1.015},{"x":2.29,"y":1.46},{"x":2.148,"y":0.85},{"x":2.2,"y":0.905},{"x":2.247,"y":0.93},{"x":2.228,"y":0.865},{"x":2.186,"y":0.82},{"x":2.184,"y":0.78},{"x":2.35,"y":0.857},{"x":2.48,"y":0.857},{"x":2.447,"y":0.795},{"x":2.41,"y":0.76},{"x":2.414,"y":0.73},{"x":1.854,"y":0.815},{"x":1.843,"y":0.774},{"x":1.912,"y":0.794},{"x":1.82,"y":0.718},{"x":1.75,"y":0.718},{"x":1.665,"y":0.67},{"x":1.718,"y":0.657},{"x":1.938,"y":0.72},{"x":1.97,"y":0.69},{"x":2.02,"y":0.73},{"x":2.043,"y":0.755},{"x":2.106,"y":0.73},{"x":2.264,"y":0.73},{"x":2.184,"y":0.698},{"x":2.243,"y":0.69},{"x":2.295,"y":0.676},{"x":2.153,"y":0.635},{"x":2.22,"y":0.627},{"x":2.342,"y":0.614},{"x":2.4,"y":0.6},{"x":2.37,"y":0.57},{"x":2.384,"y":0.525},{"x":2.168,"y":0.58},{"x":2.21,"y":0.524},{"x":2.29,"y":0.53},{"x":2.134,"y":0.538},{"x":2.043,"y":0.62},{"x":1.928,"y":0.65},{"x":1.875,"y":0.607},{"x":1.865,"y":0.538},{"x":1.791,"y":0.538},{"x":2.02,"y":0.566},{"x":2.0,"y":0.607},{"x":1.95,"y":0.566},{"x":2.043,"y":0.469},{"x":2.106,"y":0.474},{"x":2.168,"y":0.482},{"x":2.243,"y":0.414},{"x":2.317,"y":0.344},{"x":2.395,"y":0.303},{"x":2.45,"y":0.303},{"x":2.436,"y":0.28},{"x":2.317,"y":0.254},{"x":2.254,"y":0.24},{"x":2.295,"y":0.163},{"x":2.348,"y":0.128},{"x":2.38,"y":0.1},{"x":2.233,"y":0.303},{"x":2.19,"y":0.386},{"x":2.148,"y":0.372},{"x":1.98,"y":0.428},{"x":1.707,"y":0.497},{"x":1.82,"y":0.58},{"x":1.88,"y":0.62},{"x":1.95,"y":0.5},{"x":2.1,"y":0.43},{"x":2.2,"y":0.45},{"x":2.28,"y":0.42},{"x":2.35,"y":0.35},{"x":2.25,"y":0.5},{"x":1.6,"y":0.6},{"x":1.55,"y":0.65},{"x":1.72,"y":0.6}]
},
"vconcat":[
{"hconcat":[
{"title":"(a) PAN","width":579,"height":621,"encoding":{"x":{"field":"x","type":"quantitative","scale":{"domain":[0,3.651],"nice":false},"axis":{"title":"CO total column [molec. cm⁻²]","values":[0,0.5,1,1.5,2,2.5,3,3.5],"format":".1f"}},"y":{"field":"y","type":"quantitative","scale":{"domain":[0,1.719],"nice":false},"axis":{"title":"PAN total column [molec. cm⁻²]","values":[0,0.2,0.4,0.6,0.8,1,1.2,1.4,1.6],"format":".1f"}}},
"layer":[
{"data":{"name":"ac"},"mark":{"type":"point","filled":true,"size":105,"fill":"#8d8d8d","stroke":"#ababab","strokeWidth":1,"opacity":1,"clip":true}},
{"data":{"name":"af"},"mark":{"type":"point","filled":true,"size":32,"fill":"#999999","fillOpacity":0.5,"stroke":"#888888","strokeOpacity":0.6,"strokeWidth":1,"clip":true}},
{"data":{"name":"pa"},"mark":{"type":"rule","color":"#808080","strokeWidth":2},"encoding":{"x":{"field":"xl","type":"quantitative"},"x2":{"field":"xh"}}},
{"data":{"name":"pa"},"mark":{"type":"rule","color":"#808080","strokeWidth":2},"encoding":{"y":{"field":"yl","type":"quantitative"},"y2":{"field":"yh"}}},
{"data":{"name":"pa"},"mark":{"type":"point","filled":true,"size":95,"opacity":1,"strokeWidth":1.2},"encoding":{"fill":{"field":"d","type":"quantitative","legend":null,"scale":{"domain":[17,18,19,20,21,22,23],"range":["#3b4cc0","#6f92f3","#aac7fd","#dddcdc","#f6bda2","#e46e56","#b40426"]}},"stroke":{"field":"e","type":"nominal","legend":null,"scale":{"domain":["b","o","g","r","p","n","k","i","y","c"],"range":["#1f77b4","#ff7f0e","#2ca02c","#d62728","#9467bd","#8c564b","#e377c2","#7f7f7f","#bcbd22","#17becf"]}}}},
{"data":{"values":[{"x":1.03,"y":0},{"x":3.48,"y":1.55}]},"mark":{"type":"line","color":"#000000","strokeWidth":1.2,"strokeDash":[4,2],"clip":true}},
{"data":{"values":[{"x":1.3,"y":0.171},{"x":2.2,"y":0.74}]},"mark":{"type":"line","color":"#000000","strokeWidth":2,"strokeDash":[6,1],"clip":true}},
{"data":{"values":[{"x":0.063,"x2":2.768,"y":1.691,"y2":1.589}]},"mark":{"type":"rect","fill":"#ffffff","fillOpacity":0.8,"stroke":"#d8d8d8","cornerRadius":4},"encoding":{"x2":{"field":"x2"},"y2":{"field":"y2"}}},
{"data":{"values":[{"x":0.12,"x2":0.385,"y":1.644}]},"mark":{"type":"rule","color":"#000000","strokeWidth":1.2,"strokeDash":[4,2]},"encoding":{"x2":{"field":"x2"}}},
{"data":{"values":[{"x":0.486,"y":1.644,"t":"y = (0.006 ± 0.001)x + -6.61e+15"},{"x":0.208,"y":1.534,"t":"= 0.91"},{"x":0.082,"y":1.462,"t":"N = 35"}]},"mark":{"type":"text","align":"left","baseline":"middle","fontSize":20},"encoding":{"text":{"field":"t"}}},
{"data":{"values":[{"x":0.082,"y":1.534,"t":"R"}]},"mark":{"type":"text","align":"left","baseline":"middle","fontSize":20,"fontStyle":"italic"},"encoding":{"text":{"field":"t"}}},
{"data":{"values":[{"x":0,"y":1.744,"t":"1e16"}]},"mark":{"type":"text","align":"left","baseline":"middle","fontSize":16},"encoding":{"text":{"field":"t"}}},
{"data":{"values":[{"x":3.651,"y":-0.122,"t":"1e18"}]},"mark":{"type":"text","align":"right","baseline":"middle","fontSize":16},"encoding":{"text":{"field":"t"}}}
]},
{"title":"(b) C₂H₄","width":579,"height":621,"encoding":{"x":{"field":"x","type":"quantitative","scale":{"domain":[0,3.651],"nice":false},"axis":{"title":"CO total column [molec. cm⁻²]","values":[0,0.5,1,1.5,2,2.5,3,3.5],"format":".1f"}},"y":{"field":"y","type":"quantitative","scale":{"domain":[0,1.823],"nice":false},"axis":{"title":"C₂H₄ total column [molec. cm⁻²]","values":[0,0.25,0.5,0.75,1,1.25,1.5,1.75],"format":".2f"}}},
"layer":[
{"data":{"name":"bc"},"mark":{"type":"point","filled":true,"size":105,"fill":"#8d8d8d","stroke":"#ababab","strokeWidth":1,"opacity":1,"clip":true}},
{"data":{"name":"bf"},"mark":{"type":"point","filled":true,"size":32,"fill":"#999999","fillOpacity":0.5,"stroke":"#888888","strokeOpacity":0.6,"strokeWidth":1,"clip":true}},
{"data":{"name":"pb"},"mark":{"type":"rule","color":"#808080","strokeWidth":2},"encoding":{"x":{"field":"xl","type":"quantitative"},"x2":{"field":"xh"}}},
{"data":{"name":"pb"},"mark":{"type":"rule","color":"#808080","strokeWidth":2},"encoding":{"y":{"field":"yl","type":"quantitative"},"y2":{"field":"yh"}}},
{"data":{"name":"pb"},"mark":{"type":"point","filled":true,"size":95,"opacity":1,"strokeWidth":1.2},"encoding":{"fill":{"field":"d","type":"quantitative","legend":null,"scale":{"domain":[17,18,19,20,21,22,23],"range":["#3b4cc0","#6f92f3","#aac7fd","#dddcdc","#f6bda2","#e46e56","#b40426"]}},"stroke":{"field":"e","type":"nominal","legend":null,"scale":{"domain":["b","o","g","r","p","n","k","i","y","c"],"range":["#1f77b4","#ff7f0e","#2ca02c","#d62728","#9467bd","#8c564b","#e377c2","#7f7f7f","#bcbd22","#17becf"]}}}},
{"data":{"values":[{"x":2.0,"y":0},{"x":3.48,"y":1.55}]},"mark":{"type":"line","color":"#000000","strokeWidth":1.2,"strokeDash":[4,2],"clip":true}},
{"data":{"values":[{"x":2.0,"y":0},{"x":2.22,"y":0.23}]},"mark":{"type":"line","color":"#000000","strokeWidth":2,"strokeDash":[6,1],"clip":true}},
{"data":{"values":[{"x":0.063,"x2":2.806,"y":1.794,"y2":1.685}]},"mark":{"type":"rect","fill":"#ffffff","fillOpacity":0.8,"stroke":"#d8d8d8","cornerRadius":4},"encoding":{"x2":{"field":"x2"},"y2":{"field":"y2"}}},
{"data":{"values":[{"x":0.12,"x2":0.385,"y":1.744}]},"mark":{"type":"rule","color":"#000000","strokeWidth":1.2,"strokeDash":[4,2]},"encoding":{"x2":{"field":"x2"}}},
{"data":{"values":[{"x":0.486,"y":1.744,"t":"y = (0.011 ± 0.001)x + -2.12e+16"},{"x":0.208,"y":1.627,"t":"= 0.97"},{"x":0.082,"y":1.55,"t":"N = 41"}]},"mark":{"type":"text","align":"left","baseline":"middle","fontSize":20},"encoding":{"text":{"field":"t"}}},
{"data":{"values":[{"x":0.082,"y":1.627,"t":"R"}]},"mark":{"type":"text","align":"left","baseline":"middle","fontSize":20,"fontStyle":"italic"},"encoding":{"text":{"field":"t"}}},
{"data":{"values":[{"x":0,"y":1.85,"t":"1e16"}]},"mark":{"type":"text","align":"left","baseline":"middle","fontSize":16},"encoding":{"text":{"field":"t"}}},
{"data":{"values":[{"x":3.651,"y":-0.129,"t":"1e18"}]},"mark":{"type":"text","align":"right","baseline":"middle","fontSize":16},"encoding":{"text":{"field":"t"}}}
]}
],"spacing":87,"bounds":"flush"},
{"hconcat":[
{"title":"(c) CH₃OH","width":579,"height":621,"encoding":{"x":{"field":"x","type":"quantitative","scale":{"domain":[0,3.651],"nice":false},"axis":{"title":"CO total column [molec. cm⁻²]","values":[0,0.5,1,1.5,2,2.5,3,3.5],"format":".1f"}},"y":{"field":"y","type":"quantitative","scale":{"domain":[0,6.915],"nice":false},"axis":{"title":"CH₃OH total column [molec. cm⁻²]","values":[0,1,2,3,4,5,6],"format":"d"}}},
"layer":[
{"data":{"name":"cc"},"mark":{"type":"point","filled":true,"size":85,"fill":"#8d8d8d","stroke":"#ababab","strokeWidth":1,"opacity":1,"clip":true}},
{"data":{"name":"cf"},"mark":{"type":"point","filled":true,"size":32,"fill":"#999999","fillOpacity":0.5,"stroke":"#888888","strokeOpacity":0.6,"strokeWidth":1,"clip":true}},
{"data":{"name":"pc"},"mark":{"type":"rule","color":"#808080","strokeWidth":2},"encoding":{"x":{"field":"xl","type":"quantitative"},"x2":{"field":"xh"}}},
{"data":{"name":"pc"},"mark":{"type":"rule","color":"#808080","strokeWidth":2},"encoding":{"y":{"field":"yl","type":"quantitative"},"y2":{"field":"yh"}}},
{"data":{"name":"pc"},"mark":{"type":"point","filled":true,"size":95,"opacity":1,"strokeWidth":1.2},"encoding":{"fill":{"field":"d","type":"quantitative","legend":null,"scale":{"domain":[17,18,19,20,21,22,23],"range":["#3b4cc0","#6f92f3","#aac7fd","#dddcdc","#f6bda2","#e46e56","#b40426"]}},"stroke":{"field":"e","type":"nominal","legend":null,"scale":{"domain":["b","o","g","r","p","n","k","i","y","c"],"range":["#1f77b4","#ff7f0e","#2ca02c","#d62728","#9467bd","#8c564b","#e377c2","#7f7f7f","#bcbd22","#17becf"]}}}},
{"data":{"values":[{"x":0,"y":1.15},{"x":3.48,"y":4.83}]},"mark":{"type":"line","color":"#000000","strokeWidth":1.2,"strokeDash":[4,2],"clip":true}},
{"data":{"values":[{"x":1.35,"y":2.58},{"x":1.95,"y":3.21}]},"mark":{"type":"line","color":"#000000","strokeWidth":2,"strokeDash":[6,2],"clip":true}},
{"data":{"values":[{"x":0.063,"x2":2.768,"y":6.804,"y2":6.392}]},"mark":{"type":"rect","fill":"#ffffff","fillOpacity":0.8,"stroke":"#d8d8d8","cornerRadius":4},"encoding":{"x2":{"field":"x2"},"y2":{"field":"y2"}}},
{"data":{"values":[{"x":0.12,"x2":0.385,"y":6.615}]},"mark":{"type":"rule","color":"#000000","strokeWidth":1.2,"strokeDash":[4,2]},"encoding":{"x2":{"field":"x2"}}},
{"data":{"values":[{"x":0.486,"y":6.615,"t":"y = (0.011 ± 0.003)x + 1.15e+16"},{"x":0.208,"y":6.17,"t":"= 0.73"},{"x":0.082,"y":5.88,"t":"N = 28"}]},"mark":{"type":"text","align":"left","baseline":"middle","fontSize":20},"encoding":{"text":{"field":"t"}}},
{"data":{"values":[{"x":0.082,"y":6.17,"t":"R"}]},"mark":{"type":"text","align":"left","baseline":"middle","fontSize":20,"fontStyle":"italic"},"encoding":{"text":{"field":"t"}}},
{"data":{"values":[{"x":0,"y":7.016,"t":"1e16"}]},"mark":{"type":"text","align":"left","baseline":"middle","fontSize":16},"encoding":{"text":{"field":"t"}}},
{"data":{"values":[{"x":3.651,"y":-0.49,"t":"1e18"}]},"mark":{"type":"text","align":"right","baseline":"middle","fontSize":16},"encoding":{"text":{"field":"t"}}}
]},
{"title":"(d) HCOOH","width":579,"height":621,"encoding":{"x":{"field":"x","type":"quantitative","scale":{"domain":[0,3.651],"nice":false},"axis":{"title":"CO total column [molec. cm⁻²]","values":[0,0.5,1,1.5,2,2.5,3,3.5],"format":".1f"}},"y":{"field":"y","type":"quantitative","scale":{"domain":[0,5.166],"nice":false},"axis":{"title":"HCOOH total column [molec. cm⁻²]","values":[0,1,2,3,4,5],"format":"d"}}},
"layer":[
{"data":{"name":"dc"},"mark":{"type":"point","filled":true,"size":105,"fill":"#8d8d8d","stroke":"#ababab","strokeWidth":1,"opacity":1,"clip":true}},
{"data":{"name":"df"},"mark":{"type":"point","filled":true,"size":32,"fill":"#999999","fillOpacity":0.5,"stroke":"#888888","strokeOpacity":0.6,"strokeWidth":1,"clip":true}},
{"data":{"name":"pd"},"mark":{"type":"rule","color":"#808080","strokeWidth":2},"encoding":{"x":{"field":"xl","type":"quantitative"},"x2":{"field":"xh"}}},
{"data":{"name":"pd"},"mark":{"type":"rule","color":"#808080","strokeWidth":2},"encoding":{"y":{"field":"yl","type":"quantitative"},"y2":{"field":"yh"}}},
{"data":{"name":"pd"},"mark":{"type":"point","filled":true,"size":95,"opacity":1,"strokeWidth":1.2},"encoding":{"fill":{"field":"d","type":"quantitative","legend":null,"scale":{"domain":[17,18,19,20,21,22,23],"range":["#3b4cc0","#6f92f3","#aac7fd","#dddcdc","#f6bda2","#e46e56","#b40426"]}},"stroke":{"field":"e","type":"nominal","legend":null,"scale":{"domain":["b","o","g","r","p","n","k","i","y","c"],"range":["#1f77b4","#ff7f0e","#2ca02c","#d62728","#9467bd","#8c564b","#e377c2","#7f7f7f","#bcbd22","#17becf"]}}}},
{"data":{"values":[{"x":1.53,"y":0},{"x":3.48,"y":4.75}]},"mark":{"type":"line","color":"#000000","strokeWidth":1.2,"strokeDash":[4,2],"clip":true}},
{"data":{"values":[{"x":1.53,"y":0},{"x":1.87,"y":0.83}]},"mark":{"type":"line","color":"#000000","strokeWidth":2,"strokeDash":[6,1],"clip":true}},
{"data":{"values":[{"x":0.063,"x2":2.806,"y":5.083,"y2":4.775}]},"mark":{"type":"rect","fill":"#ffffff","fillOpacity":0.8,"stroke":"#d8d8d8","cornerRadius":4},"encoding":{"x2":{"field":"x2"},"y2":{"field":"y2"}}},
{"data":{"values":[{"x":0.12,"x2":0.385,"y":4.942}]},"mark":{"type":"rule","color":"#000000","strokeWidth":1.2,"strokeDash":[4,2]},"encoding":{"x2":{"field":"x2"}}},
{"data":{"values":[{"x":0.486,"y":4.942,"t":"y = (0.024 ± 0.001)x + -3.70e+16"},{"x":0.208,"y":4.609,"t":"= 0.96"},{"x":0.082,"y":4.393,"t":"N = 40"}]},"mark":{"type":"text","align":"left","baseline":"middle","fontSize":20},"encoding":{"text":{"field":"t"}}},
{"data":{"values":[{"x":0.082,"y":4.609,"t":"R"}]},"mark":{"type":"text","align":"left","baseline":"middle","fontSize":20,"fontStyle":"italic"},"encoding":{"text":{"field":"t"}}},
{"data":{"values":[{"x":0,"y":5.241,"t":"1e16"}]},"mark":{"type":"text","align":"left","baseline":"middle","fontSize":16},"encoding":{"text":{"field":"t"}}},
{"data":{"values":[{"x":3.651,"y":-0.366,"t":"1e18"}]},"mark":{"type":"text","align":"right","baseline":"middle","fontSize":16},"encoding":{"text":{"field":"t"}}}
]}
],"spacing":87,"bounds":"flush"},
{"width":1245,"height":2,"view":{"stroke":null},"data":{"values":[{"a":"2017-08-17T00:00:00Z","b":"2017-08-23T00:00:00Z","v":15,"w":0}]},"mark":{"type":"rect","stroke":"#cfcfcf","fill":{"gradient":"linear","x1":0,"y1":0,"x2":1,"y2":0,"stops":[{"offset":0,"color":"#3b4cc0"},{"offset":0.1667,"color":"#6f92f3"},{"offset":0.3333,"color":"#aac7fd"},{"offset":0.5,"color":"#dddcdc"},{"offset":0.6667,"color":"#f6bda2"},{"offset":0.8333,"color":"#e46e56"},{"offset":1,"color":"#b40426"}]}},"encoding":{"y":{"field":"v","type":"quantitative","scale":{"domain":[0,1],"nice":false},"axis":null},"y2":{"field":"w"},"x":{"field":"a","type":"temporal","scale":{"type":"utc","domain":["2017-08-16T06:04:00Z","2017-08-24T00:00:00Z"]},"axis":{"title":null,"grid":false,"ticks":true,"tickSize":4,"tickColor":"#555555","labelFontSize":19,"labelPadding":2,"format":"%Y-%m-%d","values":[{"utc":true,"year":2017,"month":8,"date":17},{"utc":true,"year":2017,"month":8,"date":18},{"utc":true,"year":2017,"month":8,"date":19},{"utc":true,"year":2017,"month":8,"date":20},{"utc":true,"year":2017,"month":8,"date":21},{"utc":true,"year":2017,"month":8,"date":22},{"utc":true,"year":2017,"month":8,"date":23}]}},"x2":{"field":"b"}}}
]}
